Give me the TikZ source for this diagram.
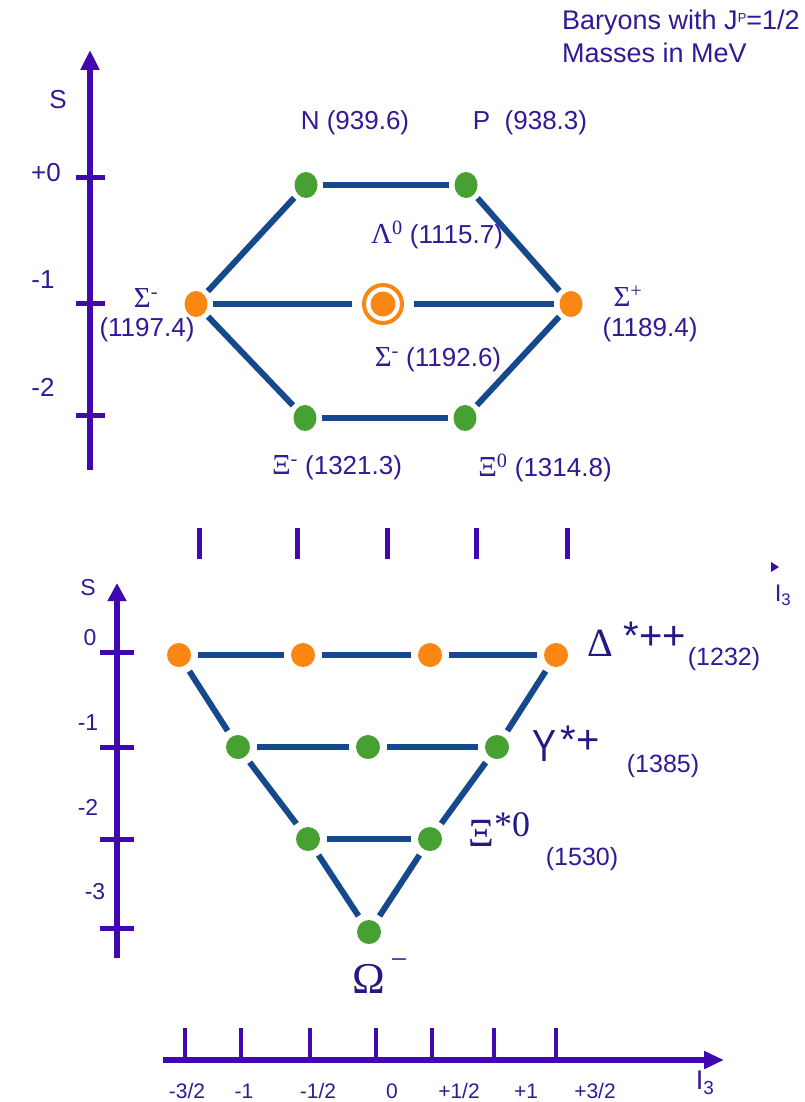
\documentclass[tikz,border=0pt]{standalone}
\usepackage{fontspec}
\setmainfont{Liberation Sans}
\newfontfamily\grk{Liberation Serif}
\usetikzlibrary{arrows.meta,shapes.geometric}
\definecolor{axis}{RGB}{64,8,176}
\definecolor{ink}{RGB}{50,25,150}
\definecolor{navy}{RGB}{35,25,130}
\definecolor{lineblue}{RGB}{22,72,140}
\definecolor{dorange}{RGB}{250,135,20}
\definecolor{dgreen}{RGB}{70,160,50}
\newcommand{\fsz}[1]{\fontsize{#1}{#1}\selectfont}
\newcommand{\gk}[1]{{\grk\fsz{29}#1}}
\begin{document}
\begin{tikzpicture}[x=1pt,y=-1pt,
  axisline/.style={draw=axis,line width=6pt},
  tickmark/.style={draw=axis,line width=5pt},
  dotg/.style={ellipse,fill=dgreen,minimum width=23pt,minimum height=26pt,inner sep=0pt},
  doto/.style={ellipse,fill=dorange,minimum width=23pt,minimum height=26pt,inner sep=0pt},
  bdotg/.style={circle,fill=dgreen,minimum size=24pt,inner sep=0pt},
  bdoto/.style={circle,fill=dorange,minimum size=24pt,inner sep=0pt},
  link/.style={draw=lineblue,line width=6pt,shorten >=5pt,shorten <=5pt},
  blink/.style={draw=lineblue,line width=6pt,shorten >=7pt,shorten <=7pt},
  lbl/.style={text=ink,inner sep=0pt,font=\fsz{26}},
  axlbl/.style={text=ink,inner sep=0pt,font=\fsz{26}},
  baxlbl/.style={text=ink,inner sep=0pt,font=\fsz{23}},
  ilbl/.style={text=ink,inner sep=0pt,font=\fsz{21}},
  big/.style={text=navy,inner sep=0pt}
]
\useasboundingbox (0,0) rectangle (805,1102);
\fill[white] (0,0) rectangle (805,1102);

% ---------- Title ----------
\node[lbl,anchor=west,font=\fsz{27}] (t1) at (562,23) {Baryons with J\raisebox{7pt}{\fsz{13}P}=1/2};
\node[lbl,anchor=west,font=\fsz{27}] (t2) at (562,53) {Masses in MeV};

% ---------- Top S axis ----------
\coordinate (sTop) at (90,50);
\coordinate (sBot) at (90,470);
\draw[axisline,-{Triangle[length=20pt,width=18pt]}] (sBot) -- (sTop);
\draw[tickmark] (76,178) -- (105,178);
\draw[tickmark] (76,303) -- (105,303);
\draw[tickmark] (76,415) -- (105,415);
\node[axlbl] (sS) at (58,100) {S};
\node[axlbl] (s0) at (46,173) {+0};
\node[axlbl] (s1) at (43,280) {-1};
\node[axlbl] (s2) at (43,387) {-2};

% ---------- Octet ----------
\node[dotg] (N) at (306,185) {};
\node[dotg] (P) at (466,185) {};
\node[doto] (Sm) at (196,304) {};
\node[circle,fill=dorange,minimum size=25pt,inner sep=0pt] (L) at (383,304) {};
\node[circle,draw=dorange,line width=4pt,minimum size=38pt,inner sep=0pt] (Lr) at (383,304) {};
\node[doto] (Sp) at (571,304) {};
\node[dotg] (Xm) at (305,418) {};
\node[dotg] (X0) at (465,418) {};

\draw[link] (N) -- (P);
\draw[link] (N) -- (Sm);
\draw[link] (P) -- (Sp);
\draw[link,shorten >=10pt] (Sm) -- (Lr);
\draw[link,shorten <=10pt] (Lr) -- (Sp);
\draw[link] (Sm) -- (Xm);
\draw[link] (Sp) -- (X0);
\draw[link] (Xm) -- (X0);

\node[lbl] (labN) at (355,123) {N (939.6)};
\node[lbl] (labP) at (530,123) {P\ \ (938.3)};
\node[lbl] (labL) at (437,235) {\gk{Λ\textsuperscript{0}} (1115.7)};
\node[lbl] (labSm) at (146,298) {\gk{Σ\textsuperscript{-}}};
\node[lbl] (labSmm) at (147,330) {(1197.4)};
\node[lbl] (labSp) at (628,296) {\gk{Σ\textsuperscript{+}}};
\node[lbl] (labSpm) at (650,330) {(1189.4)};
\node[lbl] (labS0) at (438,360) {\gk{Σ\textsuperscript{-}} (1192.6)};
\node[lbl] (labXm) at (337,468) {\gk{Ξ\textsuperscript{-}} (1321.3)};
\node[lbl] (labX0) at (545,468) {\gk{Ξ\textsuperscript{0}} (1314.8)};

% ---------- remnant of a hidden I3 axis ----------
\foreach \x in {199,297,387,476,567} \draw[tickmark] (\x,528) -- (\x,559);
\fill[axis] (771,562) -- (779,567) -- (771,572) -- cycle;
\node[axlbl,font=\fsz{24}] (rI3) at (783,595) {I\textsubscript{3}};

% ---------- Bottom S axis ----------
\coordinate (bTop) at (117,583);
\coordinate (bBot) at (117,958);
\draw[axisline,-{Triangle[length=18pt,width=18pt]}] (bBot) -- (bTop);
\foreach \y in {652,747,839,928} \draw[tickmark] (100,\y) -- (134,\y);
\node[baxlbl] (bS) at (88,588) {S};
\node[baxlbl] (b0) at (90,638) {0};
\node[baxlbl] (b1) at (88,723) {-1};
\node[baxlbl] (b2) at (88,807) {-2};
\node[baxlbl] (b3) at (95,892) {-3};

% ---------- Decuplet ----------
\node[bdoto] (D1) at (179,655) {};
\node[bdoto] (D2) at (303,655) {};
\node[bdoto] (D3) at (430,655) {};
\node[bdoto] (D4) at (556,655) {};
\node[bdotg] (Y1) at (238,747) {};
\node[bdotg] (Y2) at (368,747) {};
\node[bdotg] (Y3) at (497,747) {};
\node[bdotg] (C1) at (308,839) {};
\node[bdotg] (C2) at (430,839) {};
\node[bdotg] (O) at (369,932) {};

\draw[blink] (D1) -- (D2);
\draw[blink] (D2) -- (D3);
\draw[blink] (D3) -- (D4);
\draw[blink] (Y1) -- (Y2);
\draw[blink] (Y2) -- (Y3);
\draw[blink] (C1) -- (C2);
\draw[blink] (D1) -- (Y1);
\draw[blink] (Y1) -- (C1);
\draw[blink] (C1) -- (O);
\draw[blink] (D4) -- (Y3);
\draw[blink] (Y3) -- (C2);
\draw[blink] (C2) -- (O);

\node[big,font=\grk\fsz{40}] (lD) at (600,643) {Δ};
\node[big,font=\fsz{40}] (lDs) at (655,636) {*++};
\node[lbl,font=\fsz{25}] (lDm) at (724,659) {(1232)};
\node[big,font=\fsz{45}] (lY) at (544,746) {\scalebox{0.8}[1]{Y}};
\node[big,font=\fsz{40}] (lYs) at (580,740) {*+};
\node[lbl,font=\fsz{25}] (lYm) at (663,766) {(1385)};
\node[big,font=\grk\fsz{40}] (lX) at (481,833) {Ξ};
\node[big,font=\grk\fsz{36}] (lXs) at (512,825) {*0};
\node[lbl,font=\fsz{25}] (lXm) at (582,859) {(1530)};
\node[big,font=\grk\fsz{44}] (lO) at (369,979) {Ω};
\node[big,font=\grk\fsz{30}] (lOs) at (399,964) {−};

% ---------- Bottom I3 axis ----------
\coordinate (iL) at (163,1060);
\coordinate (iR) at (724,1060);
\draw[axisline,-{Triangle[length=20pt,width=17pt]}] (iL) -- (iR);
\foreach \x in {185,241,310,376,432,494,556} \draw[tickmark,line width=4.5pt] (\x,1028) -- (\x,1060);
\node[ilbl] (i1) at (187,1091) {-3/2};
\node[ilbl] (i2) at (244,1091) {-1};
\node[ilbl] (i3) at (318,1091) {-1/2};
\node[ilbl] (i4) at (392,1091) {0};
\node[ilbl] (i5) at (459,1091) {+1/2};
\node[ilbl] (i6) at (526,1091) {+1};
\node[ilbl] (i7) at (595,1091) {+3/2};
\node[ilbl,font=\fsz{27}] (iI) at (705,1083) {I\textsubscript{3}};
\end{tikzpicture}
\end{document}
